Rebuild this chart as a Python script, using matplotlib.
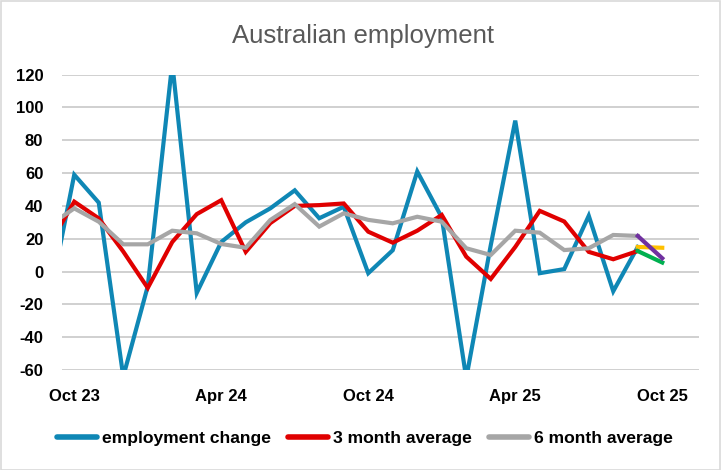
import matplotlib
matplotlib.use("Agg")
import matplotlib.pyplot as plt
from matplotlib.patches import Rectangle
import numpy as np

plt.rcParams['font.family'] = ['Liberation Sans', 'DejaVu Sans']

# months Sep 23 .. Sep 25 (Sep 23 sits just left of the visible axis)
months = ['Sep 23', 'Oct 23', 'Nov 23', 'Dec 23', 'Jan 24', 'Feb 24', 'Mar 24',
          'Apr 24', 'May 24', 'Jun 24', 'Jul 24', 'Aug 24', 'Sep 24', 'Oct 24',
          'Nov 24', 'Dec 24', 'Jan 25', 'Feb 25', 'Mar 25', 'Apr 25', 'May 25',
          'Jun 25', 'Jul 25', 'Aug 25', 'Sep 25']
emp_change = [-16, 59, 42, -64, -9, 127, -13, 18, 30, 38.5, 49.5, 32.5, 39.5,
              -1, 13, 61, 33, -65, 16, 92, -1, 1.5, 34, -12, 15]
avg3 = [17, 42.6, 32.4, 12.2, -10, 18, 35, 43.5, 12, 29.5, 40, 40.5, 41.5,
        24.3, 17.6, 24.9, 34.5, 9.1, -4.5, 15, 37, 30.5, 12, 7.5, 12.5]
avg6 = [28.3, 38.5, 30.4, 16.6, 16.6, 24.9, 23.3, 16.8, 14.5, 31.4, 41.1, 27.4,
        35.5, 31.5, 29.4, 33.4, 30.4, 14.2, 10.1, 24.9, 23.7, 13.1, 14.2, 22.3, 21.7]

# Sep 25 -> Oct 25 extensions
ext_months = ['Sep 25', 'Oct 25']
ext_emp = [15, 14.5]
ext_avg3 = [12.5, 5.5]
ext_avg6 = [21.7, 8.1]

tick_labels = ['Oct 23', 'Apr 24', 'Oct 24', 'Apr 25', 'Oct 25']
yticks = list(range(-60, 121, 20))

x = np.arange(len(months)) - 1          # Oct 23 = 0
x_ext = np.array([len(months) - 2, len(months) - 1])

fig = plt.figure(figsize=(7.21, 4.70), dpi=100)
ax = fig.add_axes([62/721, 1 - 370/470, (699 - 62)/721, (370 - 74.67)/470])

lw = 3
ax.plot(x, emp_change, color='#0F87B5', lw=lw, solid_joinstyle='miter', label='employment change')
ax.plot(x, avg3, color='#E00000', lw=lw, solid_joinstyle='miter', label='3 month average')
ax.plot(x, avg6, color='#A6A6A6', lw=lw, solid_joinstyle='miter', label='6 month average')
ax.plot(x_ext, ext_emp, color='#FFC000', lw=lw)
ax.plot(x_ext, ext_avg3, color='#00B050', lw=lw)
ax.plot(x_ext, ext_avg6, color='#7030A0', lw=lw)

ax.set_xlim(-0.5, 25.5)
ax.set_ylim(-60, 120)
ax.set_yticks(yticks)
ax.set_yticklabels([str(v) for v in yticks])
ax.set_xticks([0, 6, 12, 18, 24])
ax.set_xticklabels(tick_labels)
ax.grid(axis='y', color='#C8C8C8', lw=1.2)
ax.set_axisbelow(True)
for s in ax.spines.values():
    s.set_visible(False)
ax.tick_params(axis='both', length=0, labelsize=12)
ax.tick_params(axis='y', pad=13.5)
ax.tick_params(axis='x', pad=14)
for lab in ax.get_xticklabels() + ax.get_yticklabels():
    lab.set_fontweight('bold')

fig.text(0.503, 1 - 42.7/470, 'Australian employment', ha='center', va='baseline',
         fontsize=18.5, color='#595959')

leg = fig.legend(loc='center', bbox_to_anchor=(0.506, 1 - 438/470), ncol=3,
                 frameon=False, handlelength=2.3, handletextpad=0.25,
                 columnspacing=1.0, prop={'size': 12.6, 'weight': 'bold'})
for h in leg.get_lines():
    h.set_linewidth(4)
    h.set_solid_capstyle('round')

fig.patches.append(Rectangle((0.001, 0.001), 0.997, 0.996, transform=fig.transFigure,
                             fill=False, edgecolor='#D9D9D9', lw=1.2))

fig.savefig('out.png', dpi=100)
